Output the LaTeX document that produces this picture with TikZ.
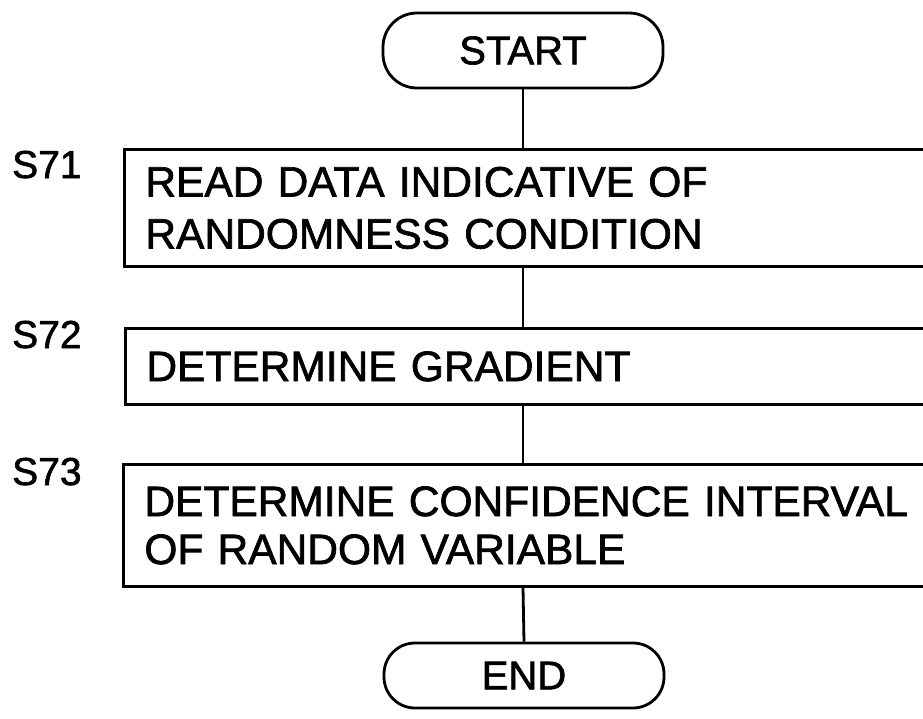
\documentclass[tikz,border=0pt]{standalone}
\usepackage{fontspec}
\setmainfont{Liberation Sans}[WordSpace=2.9, FakeBold=1.6]
\usetikzlibrary{calc}
\tikzset{
  x=1pt, y=-1pt,
  lw/.style={line width=2.8pt},
  stepbox/.style={draw, lw, rectangle, anchor=north west, inner xsep=21pt, inner ysep=0pt,
    align=left, text width=830pt, font=\fontsize{42.5}{52}\selectfont},
  term/.style={draw, lw, rectangle, minimum width=280pt, font=\fontsize{40}{48}\selectfont},
  steplabel/.style={anchor=base west, inner sep=0pt, font=\fontsize{39}{46}\selectfont},
  link/.style={lw}
}
\begin{document}
\begin{tikzpicture}
\useasboundingbox (0,0) rectangle (923,718);
\clip (0,0) rectangle (923,718);
\node[term, rounded corners=34pt, minimum height=75pt] (start) at (523,50.5) {START};
\node[stepbox, minimum height=117pt] (b1) at (123,148) {READ DATA INDICATIVE OF\\RANDOMNESS CONDITION};
\node[stepbox, minimum height=76pt] (b2) at (124,327) {DETERMINE GRADIENT};
\node[stepbox, minimum height=122pt] (b3) at (122,463) {DETERMINE CONFIDENCE INTERVAL\\[-4pt]OF RANDOM VARIABLE};
\node[term, rounded corners=31pt, minimum height=65pt] (end) at (524,675.5) {END};
\node[steplabel] (l1) at (12,178) {S71};
\node[steplabel] (l2) at (12,348) {S72};
\node[steplabel] (l3) at (12,485) {S73};
\draw[link] (start.south) -- (start.south |- b1.north);
\draw[link] (start.south |- b1.south) -- (start.south |- b2.north);
\draw[link] (start.south |- b2.south) -- (start.south |- b3.north);
\draw[link] (start.south |- b3.south) -- (end.north);
\end{tikzpicture}
\end{document}
